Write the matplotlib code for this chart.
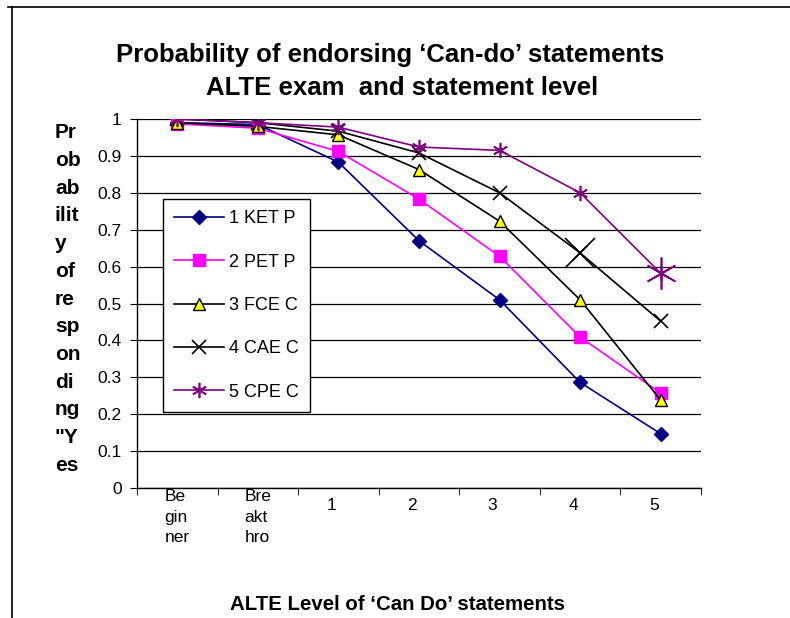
import matplotlib
matplotlib.use("Agg")
import matplotlib.pyplot as plt
from matplotlib.lines import Line2D
from matplotlib.transforms import offset_copy

plt.rcParams['font.family'] = ['Liberation Sans', 'DejaVu Sans']

categories = ["Be\ngin\nner", "Bre\nakt\nhro", "1", "2", "3", "4", "5"]
ket = [0.99, 0.985, 0.883, 0.670, 0.510, 0.286, 0.147]
pet = [0.987, 0.975, 0.912, 0.783, 0.628, 0.409, 0.257]
fce = [0.990, 0.980, 0.957, 0.863, 0.723, 0.510, 0.238]
cae = [1.000, 0.990, 0.967, 0.908, 0.800, 0.637, 0.452]
cpe = [1.000, 0.990, 0.978, 0.924, 0.915, 0.800, 0.582]
series_names = ["1 KET P", "2 PET P", "3 FCE C", "4 CAE C", "5 CPE C"]
yticks = [0, 0.1, 0.2, 0.3, 0.4, 0.5, 0.6, 0.7, 0.8, 0.9, 1]

fig = plt.figure(figsize=(7.9, 6.18), dpi=100)
ax = fig.add_axes([137/790, 1 - 488/618, 564/790, 369/618])

x = list(range(len(categories)))
styles = [
    dict(color="#000080", marker="D", markersize=7, mfc="#000080", mec="#000080"),
    dict(color="#FF00FF", marker="s", markersize=9, mfc="#FF00FF", mec="#FF00FF"),
    dict(color="black", marker="^", markersize=9, mfc="#FFFF00", mec="black"),
    dict(color="black", marker="x", markersize=10, mfc="black", mec="black", mew=1.2),
    dict(color="#800080", marker=(6, 2, 0), markersize=11, mfc="#800080", mec="#800080", mew=1.2),
]
data = [ket, pet, fce, cae, cpe]
for vals, name, st in zip(data, series_names, styles):
    ax.plot(x, vals, lw=1.2, label=name, zorder=3, **st)

# enlarged markers (as in reference)
ax.plot(x[5], cae[5], marker="x", markersize=22, color="black", mew=1.2, zorder=4)
ax.plot(x[6], cpe[6], marker=(6, 2, 0), markersize=23, color="#800080", mew=1.2, zorder=4)

ax.set_xlim(-0.5, len(categories) - 0.5)
ax.set_ylim(0, 1)
ax.set_yticks(yticks)
ax.set_yticklabels([f"{v:g}" for v in yticks], fontsize=12.5)
ax.yaxis.grid(True, color="black", lw=0.9)
ax.set_axisbelow(True)
ax.set_xticks(x)
ax.set_xticklabels(categories, fontsize=12.5, linespacing=1.45, va="top",
                   multialignment="left")
ax.set_xticks([i - 0.5 for i in range(len(categories) + 1)], minor=True)
ax.tick_params(axis="x", which="major", length=0, pad=1)
ax.tick_params(axis="x", which="minor", length=5, direction="out", color="black")
ax.tick_params(axis="y", length=5, direction="out", pad=6)
for s in ["top", "right"]:
    ax.spines[s].set_visible(False)
for s in ["left", "bottom"]:
    ax.spines[s].set_color("black")
    ax.spines[s].set_linewidth(1)

# single-line labels sit a little left and lower, as in the reference
for lab in ax.get_xticklabels():
    if "\n" not in lab.get_text():
        lab.set_transform(offset_copy(lab.get_transform(), fig=fig, x=-7, y=-9, units="dots"))

leg = ax.legend(loc="upper left", bbox_to_anchor=((163 - 137) / 564, (488 - 199) / 369),
                fontsize=13, frameon=True, fancybox=False, edgecolor="black", framealpha=1,
                handlelength=2.75, labelspacing=1.46, borderpad=0.62, handletextpad=0.3,
                borderaxespad=0)
leg.get_frame().set_linewidth(1)

fig.text(390/790, 1 - 55/618, "Probability of endorsing \u2018Can-do\u2019 statements",
         ha="center", va="center", fontsize=18.5, fontweight="bold")
fig.text(402/790, 1 - 88/618, "ALTE exam  and statement level",
         ha="center", va="center", fontsize=18.5, fontweight="bold")
fig.text(55/790, 1 - 299/618,
         "Pr\nob\nab\nilit\ny\nof\nre\nsp\non\ndi\nng\n\"Y\nes",
         ha="left", va="center", fontsize=15, fontweight="bold", linespacing=1.58)
fig.text(398/790, 1 - 604/618, "ALTE Level of \u2018Can Do\u2019 statements",
         ha="center", va="center", fontsize=14.7, fontweight="bold")

# outer border
fig.add_artist(Line2D([8/790, 1], [1 - 7/618, 1 - 7/618], color="black", lw=1.2,
                      transform=fig.transFigure))
fig.add_artist(Line2D([12/790, 12/790], [0, 1 - 7/618], color="black", lw=1.2,
                      transform=fig.transFigure))

fig.savefig("out.png", dpi=100)
